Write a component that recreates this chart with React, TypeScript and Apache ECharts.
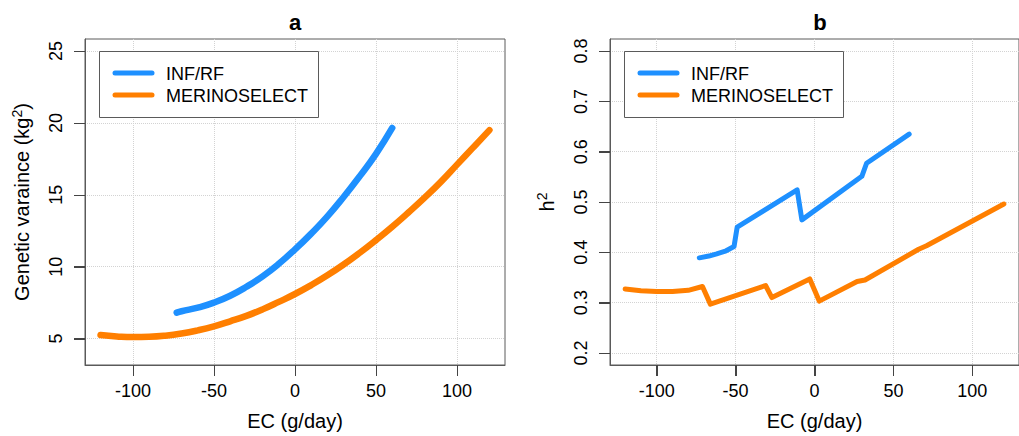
import React, { useEffect, useRef } from "react";
import * as echarts from "echarts";

// ---- data ----
const xTicks = [-100, -50, 0, 50, 100];
const varTicks = [5, 10, 15, 20, 25];
const h2Ticks = [0.2, 0.3, 0.4, 0.5, 0.6, 0.7, 0.8];
const seriesNames = ["INF/RF", "MERINOSELECT"];
const panelTitles = ["a", "b"];

// panel a: genetic variance
const infVarEC = [-73, -70, -60, -50, -40, -30, -20, -10, 0, 10, 20, 30, 40, 50, 60];
const infVar = [6.8, 6.9, 7.15, 7.5, 7.98, 8.6, 9.33, 10.2, 11.2, 12.3, 13.5, 14.85, 16.3, 17.85, 19.65];
const merVarEC = [-120, -110, -100, -90, -80, -70, -60, -50, -40, -30, -20, -10, 0, 10, 20, 30, 40, 50, 60, 70, 80, 90, 100, 110, 120];
const merVar = [5.25, 5.15, 5.1, 5.12, 5.2, 5.35, 5.57, 5.85, 6.2, 6.58, 7.03, 7.55, 8.1, 8.72, 9.4, 10.15, 10.97, 11.85, 12.78, 13.77, 14.8, 15.9, 17.1, 18.3, 19.5];

// panel b: heritability
const infH2EC = [-73, -67, -62, -56, -51, -49, -11, -8, 30, 33, 60];
const infH2 = [0.389, 0.3925, 0.397, 0.403, 0.4115, 0.45, 0.524, 0.4645, 0.551, 0.577, 0.635];
const merH2EC = [-120, -110, -100, -90, -80, -71, -66, -31, -27, -3, 3, 27, 32, 66, 71, 120];
const merH2 = [0.327, 0.3235, 0.322, 0.322, 0.3245, 0.332, 0.297, 0.334, 0.31, 0.347, 0.303, 0.342, 0.345, 0.406, 0.413, 0.496];

const BLUE = "#1E90FF";
const ORANGE = "#FF7F00";
const FONT = "'Liberation Sans', Arial, Helvetica, sans-serif";
const BOX = "#5a5a5a";
const TICK = "#444444";
const GRID = "#d3d3d3";
const X_MIN = -129.6;
const X_MAX = 129.6;
const VAR_MIN = 3.16;
const VAR_MAX = 25.84;
const H2_MIN = 0.176;
const H2_MAX = 0.824;
const TICK_LEN = 11;

const zip = (xs: number[], ys: number[]) => xs.map((x, i) => [x, ys[i]]);

function makeXAxis(gridIndex: number) {
  return {
    type: "value",
    gridIndex,
    position: "bottom",
    min: X_MIN,
    max: X_MAX,
    name: "EC (g/day)",
    nameLocation: "middle",
    nameGap: 46,
    nameTextStyle: { fontSize: 20, color: "#000", fontFamily: FONT },
    axisLine: { show: true, onZero: false, lineStyle: { color: BOX, width: 1 } },
    axisTick: { show: true, inside: false, length: TICK_LEN, customValues: xTicks, lineStyle: { color: TICK, width: 1 } },
    axisLabel: { customValues: xTicks, fontSize: 18, color: "#000", margin: 17, fontFamily: FONT },
    splitLine: { show: true, lineStyle: { color: GRID, type: "dotted", width: 1 } },
  };
}

function makeYAxis(gridIndex: number, min: number, max: number, ticks: number[], name: string, fmt: (v: number) => string) {
  return {
    type: "value",
    gridIndex,
    position: "left",
    min,
    max,
    name,
    nameLocation: "middle",
    nameGap: 52,
    nameRotate: 90,
    nameTextStyle: {
      fontSize: 20,
      color: "#000",
      fontFamily: FONT,
      rich: {
        t: { fontSize: 20, color: "#000", fontFamily: FONT },
        sup: { fontSize: 14, color: "#000", fontFamily: FONT, padding: [0, 0, 9, 0] },
      },
    },
    axisLine: { show: true, onZero: false, lineStyle: { color: BOX, width: 1 } },
    axisTick: { show: true, inside: false, length: TICK_LEN, customValues: ticks, lineStyle: { color: TICK, width: 1 } },
    axisLabel: { customValues: ticks, rotate: 90, fontSize: 18, color: "#000", margin: 20, fontFamily: FONT, formatter: (v: number) => fmt(v) },
    splitLine: { show: true, lineStyle: { color: GRID, type: "dotted", width: 1 } },
  };
}

function legendGraphics(boxX: number, boxY: number) {
  const lineX1 = boxX + 16;
  const lineX2 = boxX + 53;
  const textX = boxX + 67;
  const rows = [boxY + 22, boxY + 44];
  const colors = [BLUE, ORANGE];
  const els: any[] = [
    {
      type: "rect",
      z: 100,
      shape: { x: boxX + 0.5, y: boxY + 0.5, width: 219, height: 66 },
      style: { fill: "#fff", stroke: BOX, lineWidth: 1 },
    },
  ];
  rows.forEach((y, i) => {
    els.push({
      type: "line",
      z: 101,
      shape: { x1: lineX1, y1: y, x2: lineX2, y2: y },
      style: { stroke: colors[i], lineWidth: 5, lineCap: "round" },
    });
    els.push({
      type: "text",
      z: 101,
      x: textX,
      y: y + 1,
      style: { text: seriesNames[i], fill: "#000", font: `18px ${FONT}`, align: "left", verticalAlign: "middle" },
    });
  });
  return els;
}

export default function App() {
  const ref = useRef<HTMLDivElement>(null);
  useEffect(() => {
    if (!ref.current) return;
    const chart = echarts.init(ref.current, undefined, { renderer: "svg" });
    const lineSeries = (name: string, data: number[][], color: string, idx: number, width: number, smooth: boolean) => ({
      type: "line",
      name,
      xAxisIndex: idx,
      yAxisIndex: idx,
      data,
      showSymbol: false,
      symbol: "none",
      smooth,
      lineStyle: { color, width, cap: "round", join: "round" },
      itemStyle: { color },
      z: 5,
    });
    chart.setOption({
      animation: false,
      backgroundColor: "#fff",
      textStyle: { fontFamily: FONT },
      grid: [
        { left: 85, top: 39, width: 420, height: 326, show: true, borderColor: BOX, borderWidth: 1, backgroundColor: "transparent" },
        { left: 610, top: 39, width: 420, height: 326, show: true, borderColor: BOX, borderWidth: 1, backgroundColor: "transparent" },
      ],
      xAxis: [makeXAxis(0), makeXAxis(1)],
      yAxis: [
        makeYAxis(0, VAR_MIN, VAR_MAX, varTicks, "{t|Genetic varaince (kg}{sup|2}{t|)}", (v) => String(v)),
        makeYAxis(1, H2_MIN, H2_MAX, h2Ticks, "{t|h}{sup|2}", (v) => v.toFixed(1)),
      ],
      series: [
        lineSeries(seriesNames[0], zip(infVarEC, infVar), BLUE, 0, 6.5, true),
        lineSeries(seriesNames[1], zip(merVarEC, merVar), ORANGE, 0, 6.5, true),
        lineSeries(seriesNames[0], zip(infH2EC, infH2), BLUE, 1, 5, false),
        lineSeries(seriesNames[1], zip(merH2EC, merH2), ORANGE, 1, 5, false),
      ],
    });

    // extra outward tick marks, positioned through the axes' own scales
    const tickEls: any[] = [];
    const panels = [
      { grid: 0, yMin: VAR_MIN, yTicks: varTicks },
      { grid: 1, yMin: H2_MIN, yTicks: h2Ticks },
    ];
    panels.forEach((p) => {
      xTicks.forEach((v) => {
        const pt = chart.convertToPixel({ xAxisIndex: p.grid, yAxisIndex: p.grid }, [v, p.yMin]) as number[];
        if (!pt || !isFinite(pt[0]) || !isFinite(pt[1])) return;
        tickEls.push({
          type: "rect",
          z: 120,
          shape: { x: Math.round(pt[0]), y: Math.round(pt[1]), width: 1, height: TICK_LEN },
          style: { fill: TICK },
        });
      });
      p.yTicks.forEach((v) => {
        const pt = chart.convertToPixel({ xAxisIndex: p.grid, yAxisIndex: p.grid }, [X_MIN, v]) as number[];
        if (!pt || !isFinite(pt[0]) || !isFinite(pt[1])) return;
        tickEls.push({
          type: "rect",
          z: 120,
          shape: { x: Math.round(pt[0]) - TICK_LEN, y: Math.round(pt[1]), width: TICK_LEN, height: 1 },
          style: { fill: TICK },
        });
      });
    });

    chart.setOption({
      graphic: [
        {
          type: "text",
          x: 295,
          y: 22,
          style: { text: panelTitles[0], fill: "#000", font: `bold 22px ${FONT}`, align: "center", verticalAlign: "middle" },
        },
        {
          type: "text",
          x: 820,
          y: 22,
          style: { text: panelTitles[1], fill: "#000", font: `bold 22px ${FONT}`, align: "center", verticalAlign: "middle" },
        },
        ...legendGraphics(99, 51),
        ...legendGraphics(624, 51),
        ...tickEls,
      ],
    });
    return () => chart.dispose();
  }, []);
  return <div ref={ref} style={{ position: "absolute", left: 0, top: 0, width: 1019, height: 436 }} />;
}
